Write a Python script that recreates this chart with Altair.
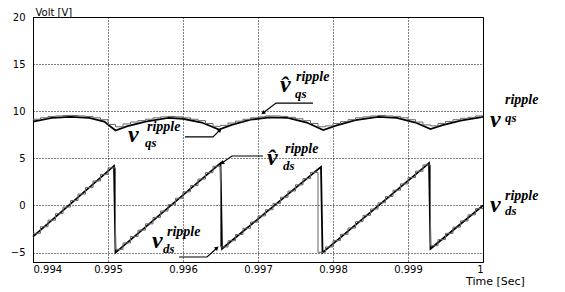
import altair as alt
import pandas as pd

# ---- true ripple signals (breakpoints) ----
t_ds = [0.99400, 0.99508, 0.99510, 0.99650, 0.99652, 0.99784, 0.99786, 0.99928, 0.99930, 1.00000]
v_ds = [-3.3, 4.2, -5.0, 4.5, -4.6, 4.1, -5.0, 4.5, -4.6, 0.0]

t_qs = [0.99400, 0.99425, 0.99450, 0.99475, 0.99495, 0.99510, 0.99525, 0.99550, 0.99580,
        0.99600, 0.99625, 0.99648, 0.99665, 0.99690, 0.99715, 0.99740, 0.99765, 0.99787,
        0.99805, 0.99830, 0.99860, 0.99885, 0.99910, 0.99930, 0.99945, 0.99970, 1.00000]
v_qs = [8.9, 9.3, 9.4, 9.3, 8.9, 7.95, 8.4, 8.9, 9.3, 9.2, 8.8, 8.05, 8.55, 9.1, 9.35, 9.3,
        8.8, 8.0, 8.5, 9.05, 9.4, 9.3, 8.8, 8.1, 8.5, 9.0, 9.4]

# ---- estimated (staircase) signals ----
t_est = [0.9940, 0.9941, 0.9942, 0.9943, 0.9944, 0.9945, 0.9946, 0.9947, 0.9948, 0.9949,
         0.9950, 0.9951, 0.9952, 0.9953, 0.9954, 0.9955, 0.9956, 0.9957, 0.9958, 0.9959,
         0.9960, 0.9961, 0.9962, 0.9963, 0.9964, 0.9965, 0.9966, 0.9967, 0.9968, 0.9969,
         0.9970, 0.9971, 0.9972, 0.9973, 0.9974, 0.9975, 0.9976, 0.9977, 0.9978, 0.9979,
         0.9980, 0.9981, 0.9982, 0.9983, 0.9984, 0.9985, 0.9986, 0.9987, 0.9988, 0.9989,
         0.9990, 0.9991, 0.9992, 0.9993, 0.9994, 0.9995, 0.9996, 0.9997, 0.9998, 0.9999,
         1.0000]
ds_est = [-2.95, -2.26, -1.56, -0.87, -0.17, 0.52, 1.21, 1.91, 2.60, 3.30,
          3.99, -4.66, -3.98, -3.30, -2.62, -1.95, -1.27, -0.59, 0.09, 0.77,
          1.45, 2.12, 2.80, 3.48, 4.16, -4.40, -3.74, -3.08, -2.42, -1.76,
          -1.11, -0.45, 0.21, 0.87, 1.53, 2.19, 2.85, 3.51, -4.97, -4.40,
          -3.73, -3.06, -2.39, -1.72, -1.05, -0.38, 0.28, 0.95, 1.62, 2.29,
          2.96, 3.63, 4.30, -4.27, -3.62, -2.96, -2.30, -1.64, -0.99, -0.33,
          -0.33]
qs_est = [9.15, 9.3, 9.45, 9.5, 9.55, 9.55, 9.5, 9.45, 9.3, 9.1,
          8.6, 8.35, 8.65, 8.85, 9.0, 9.15, 9.3, 9.4, 9.45, 9.4,
          9.3, 9.15, 9.0, 8.7, 8.4, 8.5, 8.75, 8.95, 9.15, 9.3,
          9.4, 9.5, 9.5, 9.45, 9.35, 9.2, 9.0, 8.7, 8.35, 8.45,
          8.7, 8.9, 9.1, 9.3, 9.4, 9.5, 9.55, 9.5, 9.45, 9.3,
          9.1, 8.85, 8.55, 8.45, 8.7, 8.9, 9.1, 9.25, 9.35, 9.5,
          9.5]

x_ticks = [0.994, 0.995, 0.996, 0.997, 0.998, 0.999, 1.0]
y_ticks = [-5, 0, 5, 10, 15, 20]

# ---- annotation labels ----
lab_text = ["v\u0302", "ripple", "qs",
            "v", "ripple", "qs",
            "v\u0302", "ripple", "ds",
            "v", "ripple", "ds",
            "v", "ripple", "qs",
            "v", "ripple", "ds"]
lab_t = [0.997293, 0.997507, 0.997493,
         0.995267, 0.995520, 0.995493,
         0.997120, 0.997360, 0.997333,
         0.995587, 0.995787, 0.995733,
         1.000093, 1.000293, 1.000293,
         1.000093, 1.000293, 1.000293]
lab_v = [12.04, 13.21, 11.40,
         6.73, 7.90, 6.20,
         4.29, 5.57, 3.76,
         -4.51, -3.24, -5.05,
         8.33, 10.77, 8.86,
         -0.69, 0.58, -1.01]
lab_fs = [24, 14, 13, 24, 14, 13, 24, 14, 13, 24, 14, 13, 24, 14, 13, 24, 14, 13]

# pointer lines
ptr_id = [1, 1, 1, 2, 2, 2, 3, 3, 3, 4, 4, 4]
ptr_seq = [0, 1, 2, 0, 1, 2, 0, 1, 2, 0, 1, 2]
ptr_t = [0.997733, 0.997240, 0.997067,
         0.996027, 0.996400, 0.996493,
         0.997067, 0.996653, 0.996520,
         0.995947, 0.996320, 0.996453]
ptr_v = [10.87, 10.87, 9.81,
         7.27, 7.27, 8.01,
         5.25, 5.25, 4.51,
         -5.47, -5.47, -4.51]
tip_t = [0.997067, 0.996493, 0.996520, 0.996453]
tip_v = [9.81, 8.01, 4.51, -4.51]
tip_ang = [232, 45, 235, 48]

df_ds = pd.DataFrame({"t": t_ds, "v": v_ds})
df_qs = pd.DataFrame({"t": t_qs, "v": v_qs})
df_ds_e = pd.DataFrame({"t": t_est, "v": ds_est})
df_qs_e = pd.DataFrame({"t": t_est, "v": qs_est})
df_lab = pd.DataFrame({"t": lab_t, "v": lab_v, "txt": lab_text, "fs": lab_fs})
df_ptr = pd.DataFrame({"id": ptr_id, "seq": ptr_seq, "t": ptr_t, "v": ptr_v})
df_tip = pd.DataFrame({"t": tip_t, "v": tip_v, "ang": tip_ang})

xs = alt.Scale(domain=[0.994, 1.0], nice=False, zero=False)
ys = alt.Scale(domain=[-6, 20], nice=False, zero=False)

X = alt.X("t:Q", scale=xs, axis=alt.Axis(
    values=x_ticks, title="Time [Sec]",
    labelExpr="datum.value == 1 ? '1' : format(datum.value, '.3f')",
    labelPadding=2, titleFontSize=11,
    titleX=462, titleY=22, titleAlign="center", titleBaseline="alphabetic",
))
Y = alt.Y("v:Q", scale=ys, axis=alt.Axis(
    values=y_ticks, title="Volt [V]", titleAngle=0, titleX=2, titleY=-2,
    titleAlign="left", titleBaseline="alphabetic", labelPadding=8,
))

ds_true = alt.Chart(df_ds).mark_line(color="black", strokeWidth=1.8).encode(x=X, y=Y)
qs_true = alt.Chart(df_qs).mark_line(color="black", strokeWidth=1.8).encode(x=X, y=Y)
ds_e = alt.Chart(df_ds_e).mark_line(color="#666666", strokeWidth=1, interpolate="step-after").encode(x=X, y=Y)
qs_e = alt.Chart(df_qs_e).mark_line(color="#666666", strokeWidth=1, interpolate="step-after").encode(x=X, y=Y)

ptr = alt.Chart(df_ptr).mark_line(color="black", strokeWidth=1.2).encode(
    x=X, y=Y, detail="id:N", order="seq:Q")
tips = alt.Chart(df_tip).mark_point(shape="triangle-up", filled=True, color="black",
                                     size=22, opacity=1).encode(
    x=X, y=Y, angle=alt.Angle("ang:Q", scale=None))
labels = alt.Chart(df_lab).mark_text(
    align="left", baseline="alphabetic", font="Liberation Serif",
    fontStyle="italic", fontWeight="bold", color="black").encode(
    x=X, y=Y, text="txt:N", size=alt.Size("fs:Q", scale=None))

chart = alt.layer(qs_true, ds_true, qs_e, ds_e, ptr, tips, labels).properties(
    width=450, height=245,
    autosize=alt.AutoSizeParams(type="none"),
    padding={"left": 25, "top": 9, "right": 74, "bottom": 26},
).configure_view(
    stroke="black", strokeWidth=1
).configure_axis(
    grid=True, gridColor="black", gridDash=[1, 2], gridOpacity=1, gridWidth=1,
    domain=True, domainColor="black", domainWidth=1,
    ticks=False, labelFont="DejaVu Sans", labelFontSize=10, labelColor="black",
    titleFont="DejaVu Sans", titleFontSize=10, titleFontWeight="normal", titleColor="black",
)

chart.save("out.html", embed_options={"renderer": "svg", "actions": False})
